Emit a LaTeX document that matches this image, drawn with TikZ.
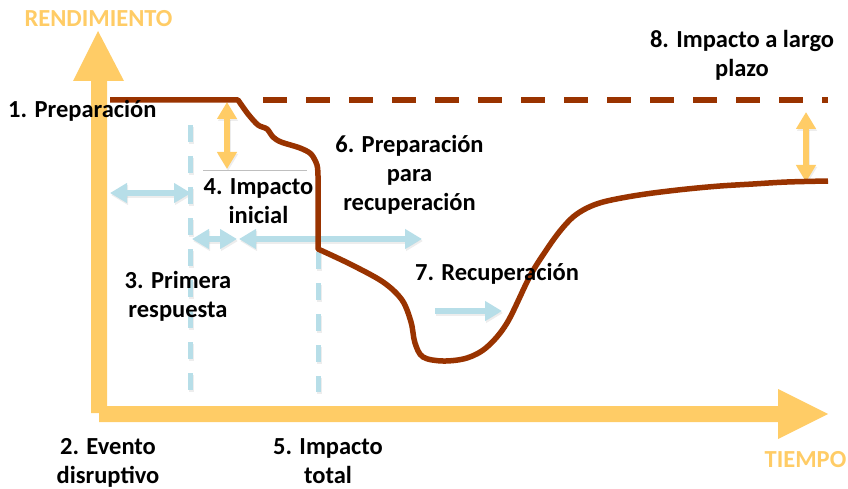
\documentclass[tikz,border=0pt]{standalone}
\usepackage{fontspec}
\setmainfont{Carlito}
\usetikzlibrary{arrows.meta}
\definecolor{axisyel}{HTML}{FFCC66}
\definecolor{curvebrown}{HTML}{993300}
\definecolor{lblue}{HTML}{B7DEE8}
\definecolor{thingray}{HTML}{BFBFBF}
\begin{document}
\begin{tikzpicture}[x=1pt,y=-1pt,
  lbl/.style={font=\fontsize{24.5}{29}\selectfont\bfseries, align=center, inner sep=0pt, anchor=base},
  axlbl/.style={lbl, text=axisyel},
  bluearr/.style={draw=lblue, line width=6pt, {Triangle[length=17pt,width=19pt]}-{Triangle[length=17pt,width=19pt]}},
  bluesingle/.style={draw=lblue, line width=6pt, -{Triangle[length=17pt,width=19pt]}},
  yelarr/.style={draw=axisyel, line width=6pt, {Triangle[length=17pt,width=19pt]}-{Triangle[length=17pt,width=19pt]}},
  bluedash/.style={draw=lblue, line width=5pt, dash pattern=on 17pt off 14pt},
  shadowcopy/.style={draw=black!40, opacity=0.18, transform canvas={shift={(1,2)}}},
  curve/.style={draw=curvebrown, line width=5.5pt, line join=round},
  refline/.style={draw=curvebrown, line width=5.5pt, dash pattern=on 24pt off 19pt}
]
\useasboundingbox (0,0) rectangle (848,489);

% axes
\fill[axisyel] (91,413) -- (91,81) -- (73,81) -- (98,31) -- (124,81) -- (107,81)
  -- (107,406) -- (778,406) -- (778,389) -- (828,414) -- (778,439) -- (778,422)
  -- (99,422) -- (99,413) -- cycle;

% named coordinates
\coordinate (evtTop) at (190,125);
\coordinate (evtBot) at (190,392);
\coordinate (totTop) at (318,252);
\coordinate (totBot) at (318,392);
\coordinate (grayL) at (203,170);
\coordinate (grayR) at (307,170);
\coordinate (prepL) at (110,193);
\coordinate (prepR) at (191,193);
\coordinate (respL) at (192,239);
\coordinate (respR) at (237,239);
\coordinate (recL) at (239,239);
\coordinate (recR) at (422,239);
\coordinate (rcvL) at (435,311);
\coordinate (rcvR) at (502,311);
\coordinate (iniT) at (227,102);
\coordinate (iniB) at (227,169);
\coordinate (ltT) at (806,112);
\coordinate (ltB) at (806,182);
\coordinate (refS) at (263,100);
\coordinate (refE) at (828,100);

% soft shadows
\draw[bluedash, shadowcopy] (evtTop) -- (evtBot);
\draw[bluedash, shadowcopy] (totTop) -- (totBot);
\draw[bluearr, shadowcopy] (prepL) -- (prepR);
\draw[bluearr, shadowcopy] (respL) -- (respR);
\draw[bluearr, shadowcopy] (recL) -- (recR);
\draw[bluesingle, shadowcopy] (rcvL) -- (rcvR);
\draw[yelarr, shadowcopy] (iniT) -- (iniB);
\draw[yelarr, shadowcopy] (ltT) -- (ltB);

% blue dashed verticals
\draw[bluedash] (evtTop) -- (evtBot);
\draw[bluedash] (totTop) -- (totBot);
% thin gray line
\draw[thingray, line width=0.8pt] (grayL) -- (grayR);

% arrows
\draw[bluearr] (prepL) -- (prepR);
\draw[bluearr] (respL) -- (respR);
\draw[bluearr] (recL) -- (recR);
\draw[bluesingle] (rcvL) -- (rcvR);
\draw[yelarr] (iniT) -- (iniB);
\draw[yelarr] (ltT) -- (ltB);

% reference (pre-event) level
\draw[refline] (refS) -- (refE);

% performance curve
\draw[curve] (110,100) -- plot[smooth, tension=0.5] coordinates {(238,100) (248,114) (258,125) (267,129) (273,137) (281,142) (300,148) (311,154) (317,165) (318,176)}
  -- (318,249) -- plot[smooth, tension=0.55] coordinates {(318,249) (350,264) (383,282) (402,300) (411,322) (415,343) (423,357) (443,361) (467,358) (487,347) (507,323) (530,276) (547,249) (560,231) (573,217) (587,208) (603,202) (627,197) (653,193) (687,189) (720,186) (753,184) (787,182) (828,181)};

% labels (anchor base = baseline of the last line)
\node[axlbl] (rend) at (98.5,27) {RENDIMIENTO};
\node[axlbl] (tiempo) at (805.5,467) {TIEMPO};
\node[lbl, anchor=base west] (l1) at (8,118) {1. Preparación};
\node[lbl] (l2) at (108,483) {2. Evento\\disruptivo};
\node[lbl] (l3) at (178,317) {3. Primera\\respuesta};
\node[lbl] (l4) at (258.5,223) {4. Impacto\\inicial};
\node[lbl] (l5) at (328,483) {5. Impacto\\total};
\node[lbl] (l6) at (409.5,211) {6. Preparación\\para\\recuperación};
\node[lbl] (l7) at (497,280) {7. Recuperación};
\node[lbl] (l8) at (742,77) {8. Impacto a largo\\plazo};
\end{tikzpicture}
\end{document}
